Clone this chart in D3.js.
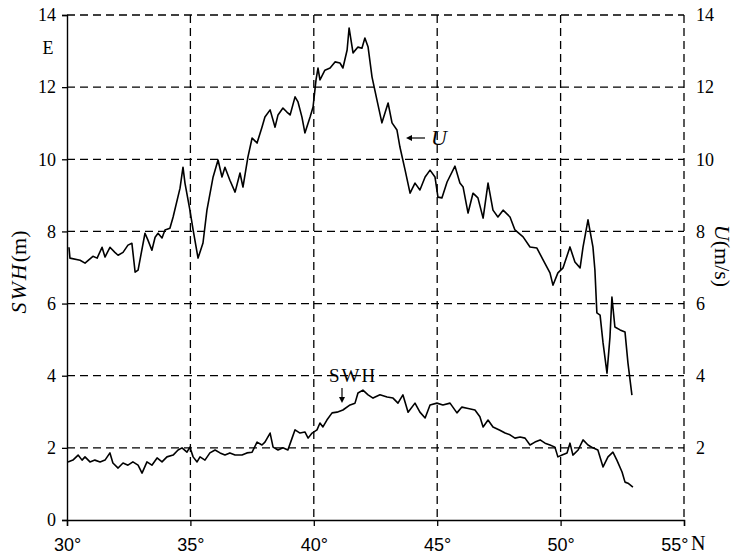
<!DOCTYPE html>
<html><head><meta charset="utf-8">
<script src="https://cdn.jsdelivr.net/npm/d3@7/dist/d3.min.js"></script>
<style>
html,body{margin:0;padding:0;background:#fff;}
svg{display:block;font-family:"Liberation Serif","DejaVu Serif",serif;}
</style></head><body>
<svg id="c" width="737" height="557"></svg>
<script>
// ---- data ----
const xTicks = [30, 35, 40, 45, 50, 55];
const xTickLabels = ["30°", "35°", "40°", "45°", "50°", "55°"];
const leftTicks = [0, 2, 4, 6, 8, 10, 12, 14];
const rightTicks = [2, 4, 6, 8, 10, 12, 14];

const uLat = [30.08,30.12,30.53,30.73,31.05,31.22,31.42,31.54,31.74,31.94,32.07,32.27,32.47,32.63,32.76,32.88,33.16,33.28,33.44,33.57,33.69,33.85,33.97,34.17,34.30,34.58,34.70,34.78,34.98,35.11,35.31,35.51,35.67,35.92,36.12,36.28,36.40,36.60,36.81,37.01,37.13,37.33,37.50,37.70,37.90,38.02,38.23,38.43,38.55,38.75,38.91,39.04,39.24,39.36,39.52,39.64,39.85,39.97,40.09,40.17,40.25,40.45,40.66,40.86,41.06,41.18,41.35,41.43,41.59,41.79,41.95,42.07,42.20,42.36,42.56,42.76,43.01,43.17,43.37,43.49,43.70,43.90,44.10,44.30,44.51,44.71,44.91,45.03,45.19,45.40,45.72,45.92,46.05,46.25,46.45,46.65,46.86,47.06,47.26,47.46,47.67,47.95,48.15,48.48,48.76,49.04,49.29,49.57,49.69,49.89,50.10,50.38,50.58,50.79,50.91,51.11,51.31,51.39,51.47,51.60,51.72,51.88,52.00,52.08,52.20,52.41,52.61,52.73,52.89];
const uVal = [7.56,7.26,7.20,7.12,7.31,7.26,7.56,7.29,7.56,7.42,7.34,7.42,7.62,7.67,6.87,6.93,7.95,7.76,7.48,7.84,7.95,7.82,8.04,8.09,8.40,9.20,9.78,9.34,8.59,8.04,7.26,7.68,8.59,9.51,9.98,9.51,9.78,9.42,9.09,9.62,9.23,10.06,10.59,10.45,10.89,11.17,11.37,10.89,11.23,11.42,11.31,11.23,11.73,11.59,11.17,10.73,11.17,11.45,12.20,12.53,12.20,12.47,12.53,12.70,12.67,12.53,13.03,13.64,12.95,13.11,13.08,13.36,13.11,12.28,11.64,11.01,11.56,11.01,10.81,10.34,9.70,9.06,9.34,9.15,9.51,9.70,9.51,8.95,8.93,9.37,9.81,9.34,9.23,8.51,9.06,8.93,8.37,9.34,8.59,8.40,8.59,8.40,8.04,7.85,7.57,7.54,7.21,6.85,6.51,6.85,6.99,7.57,7.15,6.99,7.57,8.32,7.57,6.93,5.74,5.68,4.91,4.07,5.07,6.18,5.35,5.27,5.21,4.35,3.46];

const swhLat = [30.04,30.24,30.45,30.61,30.73,30.93,31.13,31.34,31.54,31.74,31.86,32.07,32.27,32.47,32.67,32.88,33.04,33.24,33.44,33.65,33.85,34.05,34.30,34.50,34.66,34.86,34.98,35.11,35.27,35.39,35.59,35.79,36.00,36.20,36.40,36.60,36.81,37.09,37.29,37.50,37.70,37.90,38.02,38.23,38.35,38.55,38.75,38.95,39.12,39.24,39.44,39.64,39.77,39.93,40.13,40.25,40.37,40.53,40.74,40.94,41.18,41.47,41.67,41.79,41.99,42.20,42.40,42.68,42.97,43.21,43.41,43.61,43.82,44.10,44.30,44.51,44.71,44.99,45.23,45.52,45.80,46.00,46.21,46.53,46.73,46.86,47.06,47.26,47.54,47.75,47.95,48.15,48.36,48.56,48.76,48.96,49.17,49.37,49.57,49.77,49.89,50.06,50.26,50.38,50.50,50.71,50.91,51.11,51.31,51.51,51.72,51.92,52.12,52.28,52.49,52.61,52.73,52.93];
const swhVal = [1.61,1.66,1.80,1.66,1.75,1.61,1.66,1.61,1.66,1.86,1.58,1.44,1.58,1.52,1.61,1.52,1.30,1.61,1.52,1.72,1.61,1.75,1.80,1.94,2.00,1.88,2.02,1.75,1.61,1.75,1.66,1.86,1.94,1.86,1.80,1.86,1.80,1.80,1.86,1.88,2.16,2.08,2.16,2.41,2.02,1.94,2.00,1.94,2.27,2.50,2.41,2.44,2.27,2.41,2.50,2.69,2.58,2.77,2.97,2.99,3.05,3.19,3.24,3.52,3.60,3.47,3.38,3.47,3.41,3.38,3.24,3.47,2.99,3.24,2.99,2.83,3.19,3.24,3.19,3.24,2.97,3.13,3.10,3.05,2.86,2.58,2.77,2.58,2.49,2.41,2.36,2.27,2.30,2.27,2.08,2.16,2.22,2.13,2.08,2.02,1.75,1.80,1.86,2.13,1.80,1.94,2.22,2.08,2.00,1.94,1.47,1.75,1.88,1.66,1.33,1.05,1.02,0.91];

// ---- chart ----
const svg = d3.select("#c");
const x = d3.scaleLinear().domain([30, 55]).range([67, 684]);
const yL = d3.scaleLinear().domain([0, 14]).range([520, 15]);
const yR = d3.scaleLinear().domain([0, 14]).range([520, 15]);
const dash = "8,5";

// grid
const g = svg.append("g").attr("stroke", "#000").attr("stroke-width", 1.3).attr("stroke-dasharray", dash).attr("fill", "none");
g.selectAll("line.h").data(leftTicks.filter(d => d > 0)).join("line")
  .attr("x1", x(30)).attr("x2", x(55)).attr("y1", d => yL(d)).attr("y2", d => yL(d));
g.selectAll("line.v").data(xTicks.filter(d => d > 30)).join("line")
  .attr("x1", d => x(d)).attr("x2", d => x(d)).attr("y1", yL(14)).attr("y2", yL(0));

// axes
const axL = svg.append("g").attr("transform", `translate(${x(30)},0)`)
  .call(d3.axisLeft(yL).tickValues(leftTicks).tickSize(5).tickPadding(6));
const axB = svg.append("g").attr("transform", `translate(0,${yL(0)})`)
  .call(d3.axisBottom(x).tickValues(xTicks).tickSize(6).tickPadding(12).tickFormat((d, i) => xTickLabels[i]));
const axR = svg.append("g").attr("transform", `translate(${x(55)},0)`)
  .call(d3.axisRight(yR).tickValues(rightTicks).tickSize(0).tickPadding(12));
axR.select(".domain").remove();
[axL, axB, axR].forEach(a => {
  a.selectAll(".domain").attr("stroke", "#000").attr("stroke-width", 1.4);
  a.selectAll(".tick line").attr("stroke", "#000").attr("stroke-width", 1.3);
  a.selectAll("text").attr("font-family", "Liberation Serif, serif").attr("font-size", 18).attr("fill", "#000");
});
axB.selectAll("text").attr("font-family", "Liberation Sans, Arial, sans-serif").attr("font-size", 18);
axB.selectAll(".tick").filter(d => d === 55).select("text").attr("text-anchor", "end").attr("x", 4);
svg.append("text").attr("x", x(55) + 7).attr("y", yL(0) + 30).attr("font-size", 20).text("N");

// lines
const line = (ys) => d3.line().x(d => x(d[0])).y(d => ys(d[1]));
svg.append("path").datum(uLat.map((d, i) => [d, uVal[i]]))
  .attr("d", line(yR)).attr("fill", "none").attr("stroke", "#000").attr("stroke-width", 1.6).attr("stroke-linejoin", "round");
svg.append("path").datum(swhLat.map((d, i) => [d, swhVal[i]]))
  .attr("d", line(yL)).attr("fill", "none").attr("stroke", "#000").attr("stroke-width", 1.6).attr("stroke-linejoin", "round");

// axis titles
svg.append("text").attr("transform", "translate(26,272) rotate(-90)").attr("text-anchor", "middle").attr("font-size", 22)
  .call(t => { t.append("tspan").attr("font-style", "italic").attr("letter-spacing", 2).text("SWH"); t.append("tspan").text("(m)"); });
svg.append("text").attr("transform", "translate(715,256) rotate(90)").attr("text-anchor", "middle").attr("font-size", 22)
  .call(t => { t.append("tspan").attr("font-style", "italic").text("U"); t.append("tspan").text("(m/s)"); });
svg.append("text").attr("x", 48).attr("y", 54).attr("font-size", 18).attr("text-anchor", "middle").text("E");

// annotations
const ar = svg.append("g").attr("stroke", "#000").attr("stroke-width", 1.2);
ar.append("line").attr("x1", 342).attr("x2", 342).attr("y1", 388).attr("y2", 400);
svg.append("path").attr("d", "M339,397 L342,403 L345,397 Z").attr("fill", "#000");
svg.append("text").attr("x", 353).attr("y", 382).attr("font-size", 19).attr("text-anchor", "middle").attr("letter-spacing", 2).text("SWH");
ar.append("line").attr("x1", 410).attr("x2", 425).attr("y1", 138).attr("y2", 138);
svg.append("path").attr("d", "M406,138 L412,135 L412,141 Z").attr("fill", "#000");
svg.append("text").attr("x", 431).attr("y", 145).attr("font-size", 22).attr("font-style", "italic").text("U");
</script>
</body></html>
